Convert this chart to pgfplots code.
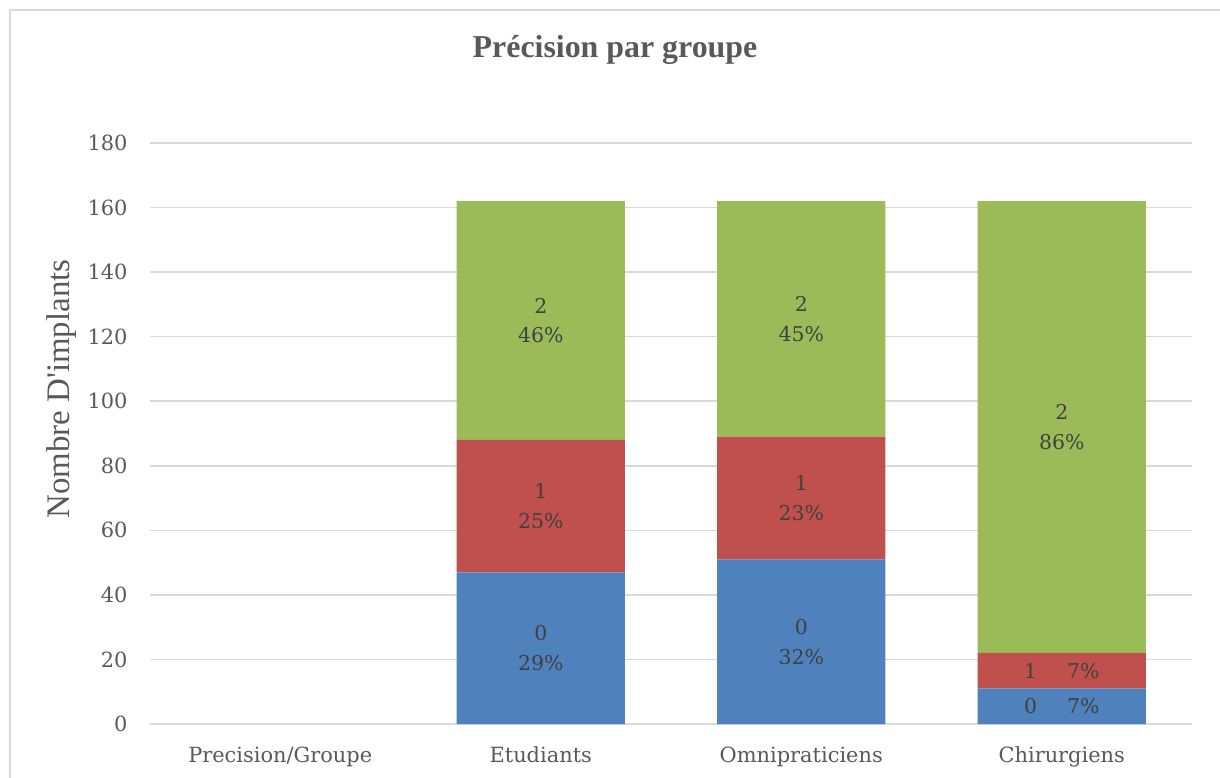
\documentclass[border=0pt]{standalone}
\usepackage{fontspec}
\setmainfont{DejaVu Serif}
\newfontfamily\timesfont{Liberation Serif}
\usepackage{pgfplots}
\pgfplotsset{compat=1.18}
\definecolor{cblue}{HTML}{4F81BD}
\definecolor{cred}{HTML}{C0504D}
\definecolor{cgreen}{HTML}{9BBB59}
\definecolor{tgray}{HTML}{595959}
\definecolor{lgray}{HTML}{404040}
\definecolor{gridc}{HTML}{D9D9D9}
\tikzset{lab/.style={font=\fontsize{20.5}{30}\selectfont, text=lgray, align=center, inner sep=0pt}}
\begin{document}
\begin{tikzpicture}
\useasboundingbox (0bp,0bp) rectangle (1220bp,778bp);
\draw[gridc, line width=2bp] (10bp,0bp) -- (10bp,768bp) -- (1220bp,768bp);
\node[font=\timesfont\bfseries\fontsize{32}{38}\selectfont, text=tgray] at (615bp,728bp) {Précision par groupe};
\node[font=\timesfont\fontsize{33}{40}\selectfont, text=tgray, rotate=90] at (62bp,389bp) {Nombre D'implants};
\begin{axis}[
  at={(150bp,54bp)}, anchor=south west,
  scale only axis, width=1042bp, height=581bp,
  xmin=-0.5, xmax=3.5, ymin=0, ymax=180,
  ybar stacked, bar width=0.645,
  xtick={0,1,2,3},
  xticklabels={Precision/Groupe, Etudiants, Omnipraticiens, Chirurgiens},
  ytick={0,20,...,180},
  ymajorgrids, grid style={gridc, line width=1.5bp},
  axis line style={draw=none},
  major tick length=0pt,
  tick label style={font=\fontsize{21}{24}\selectfont, text=tgray},
  yticklabel style={xshift=-19bp},
  xticklabel style={yshift=-19bp},
  /pgf/number format/assume math mode=true,
  clip=false,
]
\addplot[fill=cblue, draw=none] coordinates {(1,47) (2,51) (3,11)};
\addplot[fill=cred, draw=none] coordinates {(1,41) (2,38) (3,11)};
\addplot[fill=cgreen, draw=none] coordinates {(1,74) (2,73) (3,140)};
\coordinate (a0) at (axis cs:1,23.5);
\coordinate (a1) at (axis cs:1,67.5);
\coordinate (a2) at (axis cs:1,125);
\coordinate (b0) at (axis cs:2,25.5);
\coordinate (b1) at (axis cs:2,70);
\coordinate (b2) at (axis cs:2,125.5);
\coordinate (c0) at (axis cs:3,5.5);
\coordinate (c1) at (axis cs:3,16.5);
\coordinate (c2) at (axis cs:3,92);
\end{axis}
\node[lab] at (a0) {0\\29\%};
\node[lab] at (a1) {1\\25\%};
\node[lab] at (a2) {2\\46\%};
\node[lab] at (b0) {0\\32\%};
\node[lab] at (b1) {1\\23\%};
\node[lab] at (b2) {2\\45\%};
\node[lab] at (c0) {0\hspace{30bp}7\%};
\node[lab] at (c1) {1\hspace{30bp}7\%};
\node[lab] at (c2) {2\\86\%};
\end{tikzpicture}
\end{document}
